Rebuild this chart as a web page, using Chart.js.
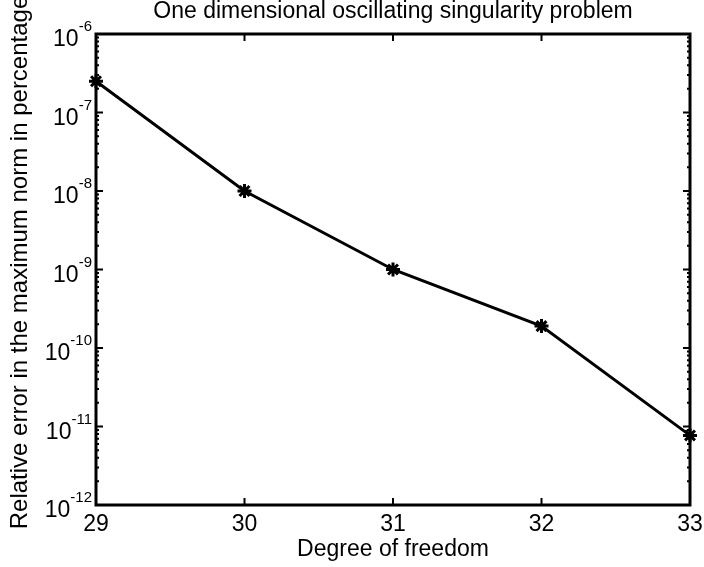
<!DOCTYPE html>
<html>
<head>
<meta charset="utf-8">
<script src="https://cdn.jsdelivr.net/npm/chart.js@4/dist/chart.umd.min.js"></script>
<style>
  body { margin: 0; background: #fff; }
  #wrap { width: 704px; height: 567px; }
</style>
</head>
<body>
<div id="wrap"><canvas id="errChart"></canvas></div>
<script>
var degrees = [29, 30, 31, 32, 33];
var relErrors = [2.5e-7, 1.0e-8, 1.0e-9, 1.9e-10, 7.7e-12];
var xTicks = [29, 30, 31, 32, 33];
var yExponents = [-12, -11, -10, -9, -8, -7, -6];

var FONT = '"Liberation Sans", Arial, sans-serif';

// matlab style frame, inward ticks and 10^n labels
var matlabAxes = {
    id: 'matlabAxes',
    afterDraw: function (chart) {
        var c = chart.ctx, a = chart.chartArea;
        var xs = chart.scales.x, ys = chart.scales.y;
        c.save();
        c.strokeStyle = '#000';
        c.fillStyle = '#000';
        c.lineWidth = 3;
        c.strokeRect(a.left, a.top, a.right - a.left, a.bottom - a.top);

        c.lineWidth = 2;
        c.beginPath();
        xTicks.forEach(function (v) {
            var px = xs.getPixelForValue(v);
            c.moveTo(px, a.bottom); c.lineTo(px, a.bottom - 7);
            c.moveTo(px, a.top); c.lineTo(px, a.top + 7);
        });
        yExponents.forEach(function (e) {
            var py = ys.getPixelForValue(Math.pow(10, e));
            c.moveTo(a.left, py); c.lineTo(a.left + 7, py);
            c.moveTo(a.right, py); c.lineTo(a.right - 7, py);
            if (e < yExponents[yExponents.length - 1]) {
                for (var m = 2; m <= 9; m++) {
                    var pm = ys.getPixelForValue(m * Math.pow(10, e));
                    c.moveTo(a.left, pm); c.lineTo(a.left + 3, pm);
                    c.moveTo(a.right, pm); c.lineTo(a.right - 3, pm);
                }
            }
        });
        c.stroke();

        // x tick labels
        c.font = '23px ' + FONT;
        c.textAlign = 'center';
        c.textBaseline = 'alphabetic';
        xTicks.forEach(function (v) {
            c.fillText(String(v), xs.getPixelForValue(v), a.bottom + 26);
        });

        // y tick labels 10^e
        yExponents.forEach(function (e) {
            var py = ys.getPixelForValue(Math.pow(10, e));
            var exp = '-' + Math.abs(e);
            c.font = '15px ' + FONT;
            var ew = c.measureText(exp).width;
            c.textAlign = 'right';
            c.fillText(exp, a.left - 4, py - 3);
            c.font = '23px ' + FONT;
            c.fillText('10', a.left - 4 - ew, py + 12);
        });

        // title and axis titles
        c.textAlign = 'center';
        c.font = '23px ' + FONT;
        c.fillText('One dimensional oscillating singularity problem', (a.left + a.right) / 2, 18);
        c.fillText('Degree of freedom', (a.left + a.right) / 2, a.bottom + 51);
        c.font = '24px ' + FONT;
        c.translate(27, (a.top + a.bottom) / 2 - 7);
        c.rotate(-Math.PI / 2);
        c.fillText('Relative error in the maximum norm in percentage', 0, 0);
        c.restore();
    }
};

var ctx = document.getElementById('errChart').getContext('2d');
var chart = new Chart(ctx, {
    type: 'line',
    data: {
        datasets: [{
            data: degrees.map(function (d, i) { return { x: d, y: relErrors[i] }; }),
            borderColor: '#000',
            borderWidth: 3,
            pointStyle: 'star',
            pointRadius: 7,
            pointBorderWidth: 3,
            pointBorderColor: '#000',
            pointBackgroundColor: '#000',
            clip: false,
            tension: 0
        }]
    },
    options: {
        responsive: true,
        maintainAspectRatio: false,
        animation: false,
        layout: { padding: { left: 88, right: 14, top: 34, bottom: 54 } },
        plugins: { legend: { display: false }, tooltip: { enabled: false } },
        scales: {
            x: {
                type: 'linear', min: 29, max: 33,
                ticks: { display: false },
                grid: { display: false },
                border: { display: false }
            },
            y: {
                type: 'logarithmic', min: 1e-12, max: 1e-6,
                ticks: { display: false },
                grid: { display: false },
                border: { display: false }
            }
        }
    },
    plugins: [matlabAxes]
});
</script>
</body>
</html>
